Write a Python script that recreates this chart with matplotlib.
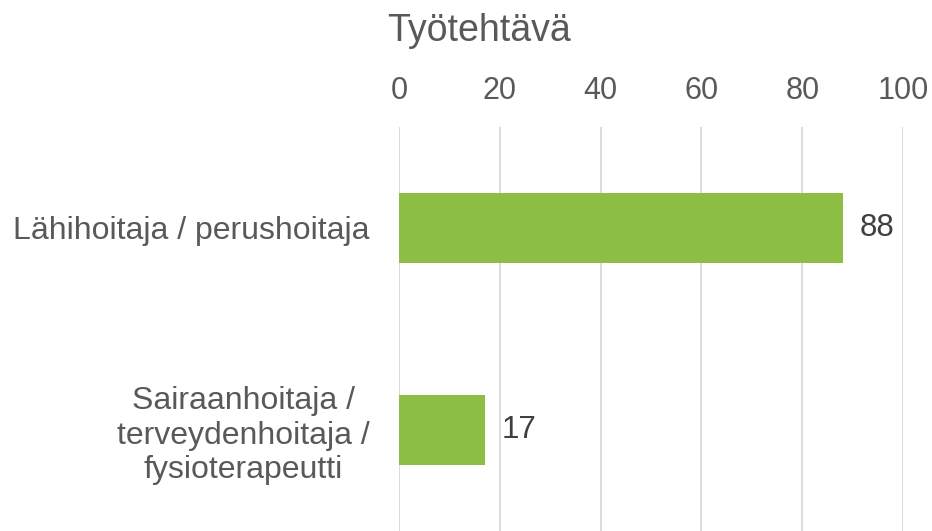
import matplotlib
matplotlib.use("Agg")
import matplotlib.pyplot as plt

categories = ["Lähihoitaja / perushoitaja", "Sairaanhoitaja /\nterveydenhoitaja /\nfysioterapeutti"]
values = [88, 17]
xticks = [0, 20, 40, 60, 80, 100]
title = "Työtehtävä"

plt.rcParams['font.family'] = ['Liberation Sans', 'DejaVu Sans']

fig = plt.figure(figsize=(9.32, 5.31), dpi=100)
ax = fig.add_axes([399/932, 0, 504/932, (531-127)/531])

ypos = list(range(len(categories)))
ax.barh(ypos, values, height=0.35, color="#8CBE44", zorder=3)
ax.set_xlim(0, 100)
ax.set_ylim(len(categories) - 0.5, -0.5)
ax.set_yticks(ypos)
ax.set_yticklabels(categories, fontsize=23, color="#595959", multialignment="center")
ax.set_xticks(xticks)
ax.set_xticklabels([str(t) for t in xticks], fontsize=22, color="#595959")
ax.xaxis.tick_top()
ax.tick_params(axis='x', length=0, pad=15)
ax.tick_params(axis='y', length=0, pad=21)
ax.grid(axis='x', color="#D9D9D9", linewidth=1.3, zorder=0)
for s in ax.spines.values():
    s.set_visible(False)

for y, v in zip(ypos, values):
    ax.text(v + 3.3, y, str(v), va='center', ha='left', fontsize=22.5, color="#404040")

fig.text(479/932, 1 - 31/531, title, ha='center', va='center', fontsize=27, color="#595959")

fig.savefig("out.png", dpi=100)
